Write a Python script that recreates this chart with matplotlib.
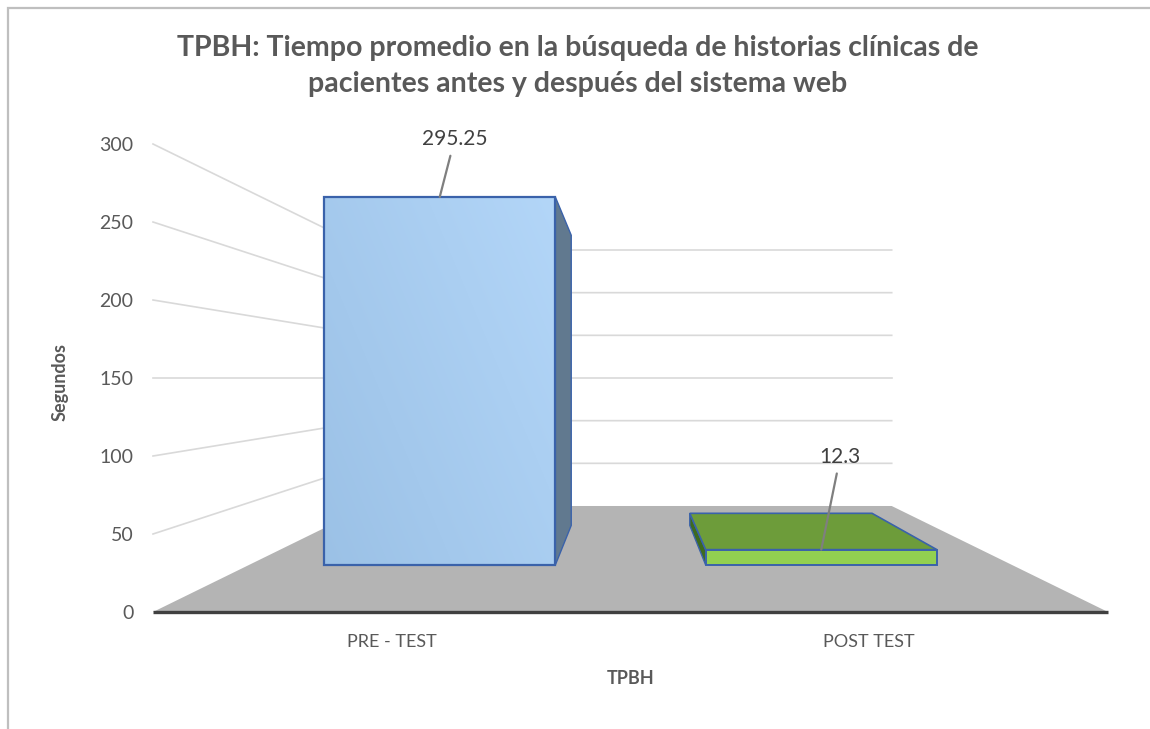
import matplotlib

matplotlib.use("Agg")
import matplotlib.pyplot as plt
import numpy as np
from matplotlib.patches import Polygon, Rectangle

plt.rcParams["font.family"] = ["Lato", "DejaVu Sans"]

# data
categories = ["PRE - TEST", "POST TEST"]
values = [295.25, 12.3]
value_labels = ["295.25", "12.3"]
y_ticks = [0, 50, 100, 150, 200, 250, 300]
title = "TPBH: Tiempo promedio en la búsqueda de historias clínicas de\npacientes antes y después del sistema web"
x_title = "TPBH"
y_title = "Segundos"

# 3-D look: depth factors relative to the front (axis) plane, vanishing point in data units
VANISH = (0.5, 150.0)
S_BACK = 0.547
S_BAR_FRONT = 0.799
S_BAR_BACK = 0.63
BAR_HALF = 0.303

TEXT = "#595959"
GRID = "#D9D9D9"


def project(x, y, s):
    """Scale a front-plane data point toward the vanishing point by depth factor s."""
    return (VANISH[0] + (x - VANISH[0]) * s, VANISH[1] + (y - VANISH[1]) * s)


W, H = 1150, 729
fig = plt.figure(figsize=(W / 100, H / 100), dpi=100)
fig.patches.append(Rectangle((8 / W, -0.1), 1.2, (729 - 8) / H + 0.1, transform=fig.transFigure,
                             fill=False, edgecolor="#BFBFBF", linewidth=1.6))

ax = fig.add_axes([153 / W, (H - 612) / H, 955 / W, 468 / H])
ax.set_xlim(-0.5, len(categories) - 0.5)
ax.set_ylim(y_ticks[0], y_ticks[-1])
for spine in ax.spines.values():
    spine.set_visible(False)

x0, x1 = ax.get_xlim()

# walls: left side wall + back wall grid lines
for v in y_ticks[1:]:
    a = project(x0, v, 1.0)
    b = project(x0, v, S_BACK)
    c = project(x1, v, S_BACK)
    ax.plot([a[0], b[0], c[0]], [a[1], b[1], c[1]], color=GRID, lw=1.2, zorder=1, clip_on=False)

# floor
floor = [project(x0, 0, 1.0), project(x1, 0, 1.0), project(x1, 0, S_BACK), project(x0, 0, S_BACK)]
ax.add_patch(Polygon(floor, closed=True, facecolor="#B4B4B4", edgecolor="none", zorder=2, clip_on=False))
ax.plot([x0, x1], [0, 0], color="#404040", lw=2.4, zorder=3, solid_capstyle="butt", clip_on=False)

# bars
edge = "#3A62AA"
for i, v in enumerate(values):
    l, r = i - BAR_HALF, i + BAR_HALF
    fl = project(l, 0, S_BAR_FRONT)
    fr = project(r, 0, S_BAR_FRONT)
    ftr = project(r, v, S_BAR_FRONT)
    ftl = project(l, v, S_BAR_FRONT)
    bl = project(l, 0, S_BAR_BACK)
    br = project(r, 0, S_BAR_BACK)
    btr = project(r, v, S_BAR_BACK)
    btl = project(l, v, S_BAR_BACK)
    if i == 0:
        # right side face (left of vanishing point -> right side visible)
        ax.add_patch(Polygon([fr, br, btr, ftr], closed=True, facecolor="#61798F",
                             edgecolor=edge, lw=1.0, zorder=4))
        front = Polygon([fl, fr, ftr, ftl], closed=True, facecolor="none", edgecolor=edge,
                        lw=1.6, zorder=6)
        grad = np.linspace(0, 1, 200)
        gx, gy = np.meshgrid(grad, grad)
        t = (gx * 0.6 + gy * 0.4)
        c_lo = np.array([0x9B, 0xC1, 0xE6]) / 255
        c_hi = np.array([0xB3, 0xD6, 0xF8]) / 255
        img = c_lo + (c_hi - c_lo) * t[..., None]
        im = ax.imshow(img, extent=[fl[0], fr[0], fl[1], ftl[1]], origin="lower",
                       zorder=5, aspect="auto", interpolation="bilinear")
        clip = Polygon([fl, fr, ftr, ftl], closed=True, transform=ax.transData, facecolor="none")
        ax.add_patch(clip)
        clip.set_visible(False)
        im.set_clip_path(clip)
        ax.add_patch(front)
    else:
        # left side face and top face
        ax.add_patch(Polygon([fl, bl, btl, ftl], closed=True, facecolor="#3E6B1F",
                             edgecolor=edge, lw=1.0, zorder=4))
        ax.add_patch(Polygon([ftl, ftr, btr, btl], closed=True, facecolor="#6D9C3A",
                             edgecolor=edge, lw=1.2, zorder=5))
        ax.add_patch(Polygon([fl, fr, ftr, ftl], closed=True, facecolor="#92D050",
                             edgecolor=edge, lw=1.4, zorder=6))

# data labels with leader lines (offsets in pixels)
label_offsets = [(15, -58), (19, -93)]
for i, (v, lab) in enumerate(zip(values, value_labels)):
    anchor = project(i, v, S_BAR_FRONT)
    dx, dy = label_offsets[i]
    ax.annotate(lab, xy=anchor, xytext=(dx, -dy), textcoords="offset pixels",
                ha="center", va="center", fontsize=15, color="#404040", zorder=8,
                annotation_clip=False,
                arrowprops=dict(arrowstyle="-", color="#7F7F7F", lw=1.6, shrinkA=3, shrinkB=0))

# axes ticks and titles
ax.set_yticks(y_ticks)
ax.set_yticklabels([str(t) for t in y_ticks], fontsize=14, color=TEXT)
ax.set_xticks(range(len(categories)))
ax.set_xticklabels(categories, fontsize=13, color=TEXT)
ax.tick_params(axis="y", length=0, pad=14)
ax.tick_params(axis="x", length=0, pad=16)
ax.set_xlabel(x_title, fontsize=13, fontweight="bold", color=TEXT, labelpad=14)
fig.text(60 / W, 1 - 382 / H, y_title, rotation=90, ha="center", va="center",
         fontsize=13, fontweight="bold", color=TEXT)

fig.text(578 / W, 1 - 66 / H, title, ha="center", va="center", fontsize=20.5,
         fontweight="bold", color=TEXT, linespacing=1.5)

fig.savefig("out.png", dpi=100)
